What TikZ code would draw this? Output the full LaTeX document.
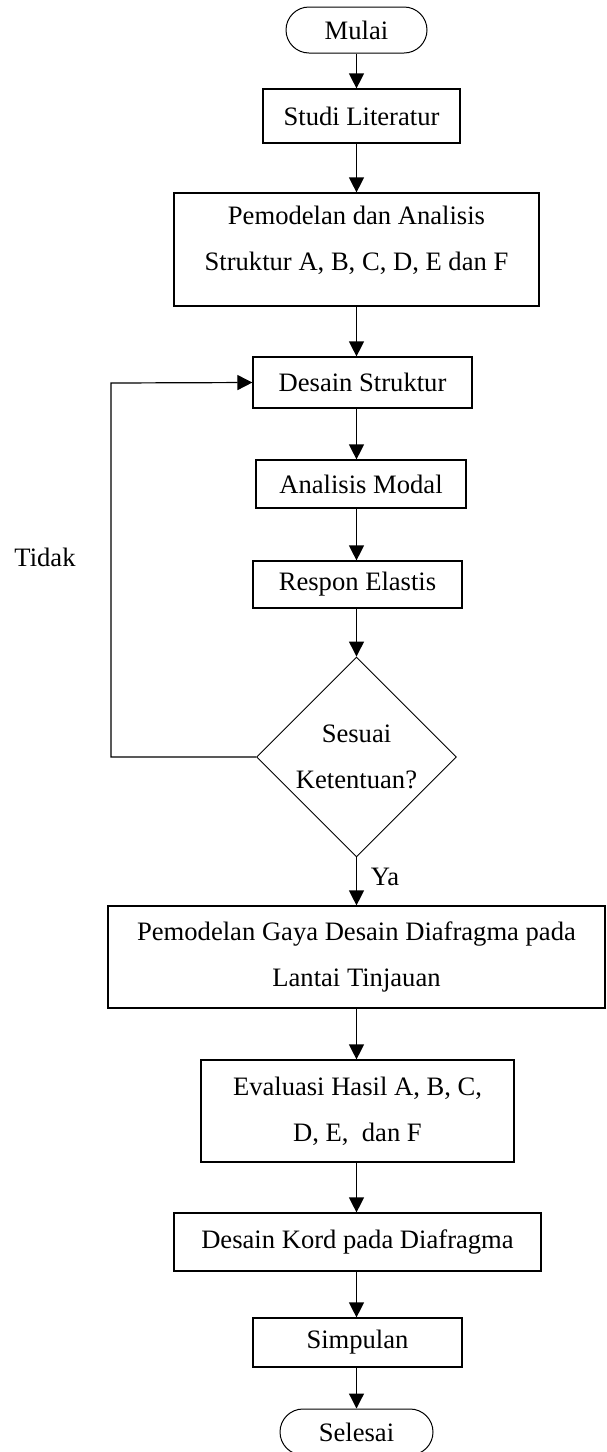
\documentclass[tikz,border=0pt]{standalone}
\usepackage{fontspec}
\setmainfont{Liberation Serif}
\usetikzlibrary{shapes.misc, shapes.geometric, arrows.meta}

\tikzset{
  proses/.style={draw=black, line width=0.6pt, rectangle, inner sep=0pt, align=center},
  terminal/.style={draw=black, line width=0.5pt, rounded rectangle, inner sep=0pt},
  keputusan/.style={draw=black, line width=0.45pt, diamond, inner sep=0pt,
    minimum width=100pt, minimum height=100pt, align=center},
  panah/.style={line width=0.6pt, -{Triangle[length=7.5pt, width=7.5pt]}}
}

\begin{document}
\begin{tikzpicture}[x=0.5pt, y=-0.5pt, font=\fontsize{13.3}{23}\selectfont]
  \useasboundingbox (0,0) rectangle (606,1452);

  % Mulai
  \node[terminal, minimum width=70.5pt, minimum height=23pt] (mulai) at (356.5,30) {Mulai};

  % Kotak proses
  \node[proses, minimum width=98.5pt, minimum height=27pt] (studi) at (361.5,116) {Studi Literatur};
  \node[proses, minimum width=182.5pt, minimum height=56.5pt, text depth=11pt] (pemodelan) at (356.5,249.5)
    {Pemodelan dan Analisis\\Struktur A, B, C, D, E dan F};
  \node[proses, minimum width=109.5pt, minimum height=25.5pt] (desain) at (362.5,382.5) {Desain Struktur};
  \node[proses, minimum width=105pt, minimum height=24pt] (modal) at (361,484) {Analisis Modal};
  \node[proses, minimum width=104.5pt, minimum height=23.5pt] (respon) at (357.5,584.5) {Respon Elastis};

  % Keputusan
  \node[keputusan] (cek) at (356.5,757) {Sesuai\\Ketentuan?};

  \node[proses, minimum width=248.5pt, minimum height=51pt] (gaya) at (356.5,957)
    {Pemodelan Gaya Desain Diafragma pada\\Lantai Tinjauan};
  \node[proses, minimum width=156.5pt, minimum height=51pt] (evaluasi) at (357.5,1111)
    {Evaluasi Hasil A, B, C,\\D, E,~ dan F};
  \node[proses, minimum width=183.5pt, minimum height=29pt] (kord) at (357.5,1242) {Desain Kord pada Diafragma};
  \node[proses, minimum width=104.5pt, minimum height=24.5pt] (simpulan) at (357.5,1342.5) {Simpulan};

  % Selesai
  \node[terminal, minimum width=76.5pt, minimum height=23pt] (selesai) at (356.5,1432) {Selesai};

  % Label
  \node (tidak) at (45,557) {Tidak};
  \node (ya) at (385,877) {Ya};

  % Panah alur utama
  \draw[panah] (mulai.south) -- (mulai.south |- studi.north);
  \draw[panah] (mulai.south |- studi.south) -- (pemodelan.north);
  \draw[panah] (pemodelan.south) -- (pemodelan.south |- desain.north);
  \draw[panah] (pemodelan.south |- desain.south) -- (pemodelan.south |- modal.north);
  \draw[panah] (pemodelan.south |- modal.south) -- (pemodelan.south |- respon.north);
  \draw[panah] (pemodelan.south |- respon.south) -- (cek.north);
  \draw[panah] (cek.south) -- (cek.south |- gaya.north);
  \draw[panah] (gaya.south) -- (gaya.south |- evaluasi.north);
  \draw[panah] (gaya.south |- evaluasi.south) -- (gaya.south |- kord.north);
  \draw[panah] (gaya.south |- kord.south) -- (gaya.south |- simpulan.north);
  \draw[panah] (gaya.south |- simpulan.south) -- (selesai.north);

  % Putaran kembali (Tidak)
  \coordinate (sudut) at (111,383);
  \draw[panah] (cek.west) -| (sudut) -- (desain.west);
\end{tikzpicture}
\end{document}
